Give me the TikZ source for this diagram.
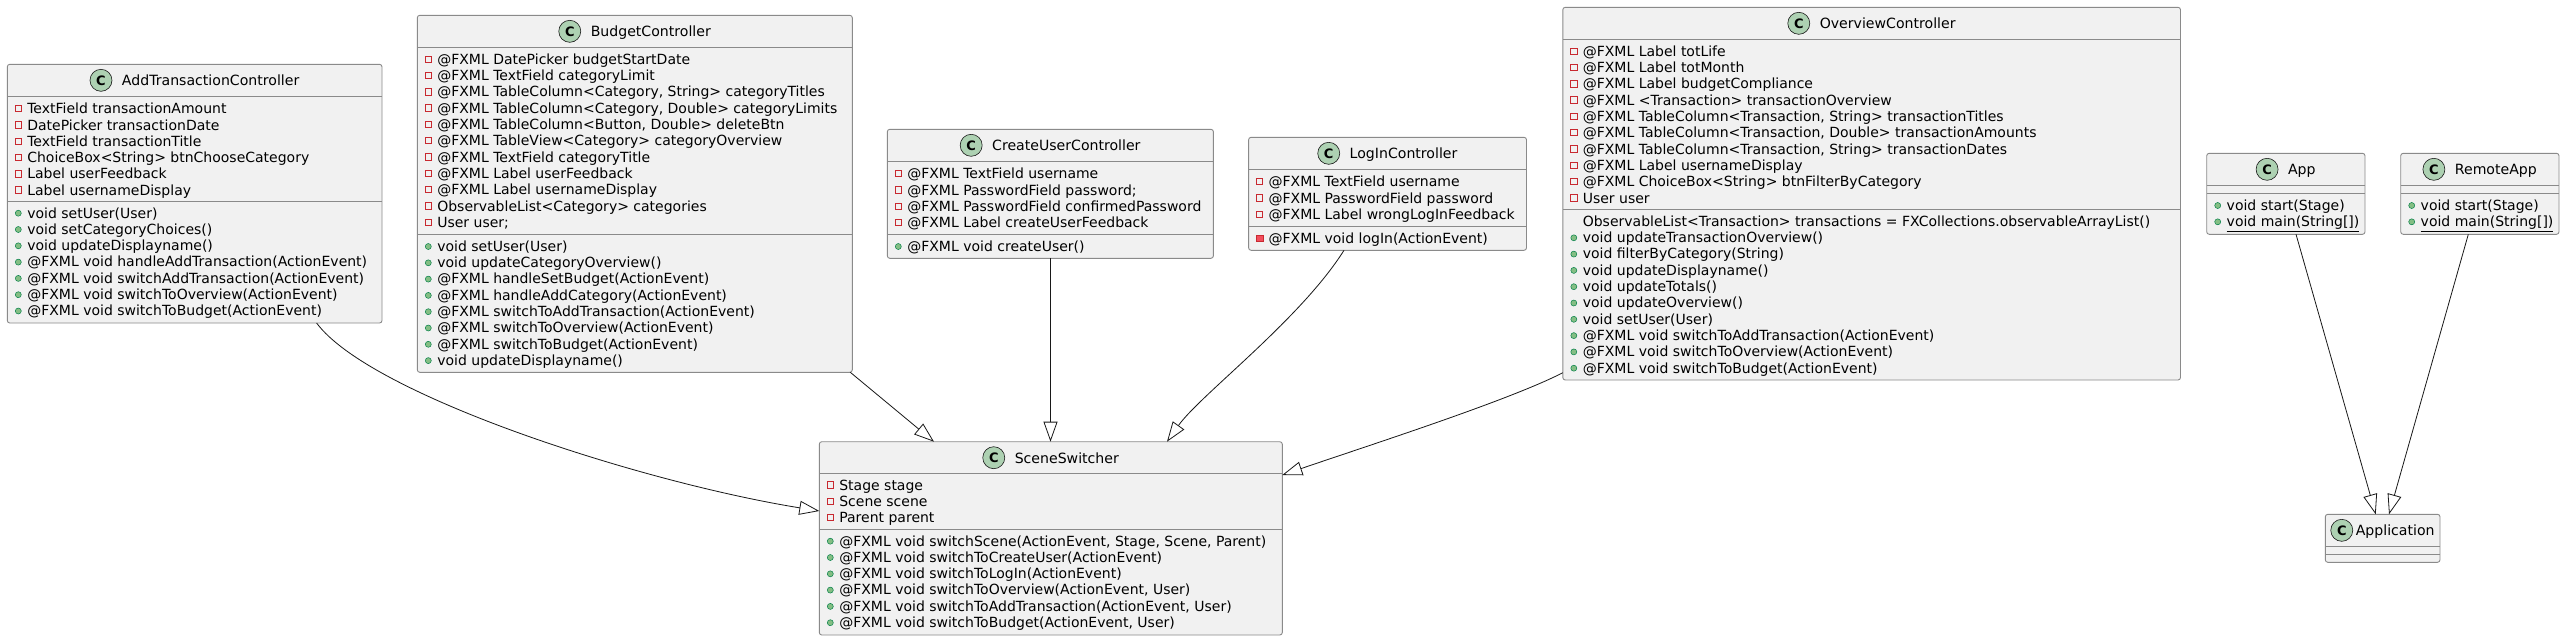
\documentclass[tikz,border=0pt]{standalone}
\usepackage{fontspec}
\setmainfont{DejaVu Sans}
\usetikzlibrary{arrows.meta,calc}
\definecolor{boxfill}{HTML}{F1F1F1}
\definecolor{lineclr}{HTML}{181818}
\definecolor{boxline}{HTML}{8A8A8A}
\definecolor{iconfill}{HTML}{ADD1B2}
\definecolor{privred}{HTML}{C82930}
\definecolor{privfill}{HTML}{F24D5C}
\definecolor{pubgreen}{HTML}{84BE84}
\definecolor{pubdark}{HTML}{038048}
\tikzset{
  clsbox/.style={draw=boxline, line width=0.9pt, fill=boxfill, rounded corners=2.5pt, inner sep=0pt, outer sep=0pt},
  sepline/.style={draw=boxline, line width=0.9pt},
  ttl/.style={font=\fontsize{14.1}{17}\selectfont, inner sep=0pt, outer sep=0pt},
  mem/.style={font=\fontsize{14}{17}\selectfont, inner sep=0pt, outer sep=0pt, anchor=base west},
  cletter/.style={font=\fontsize{13}{13}\selectfont\bfseries, inner sep=0pt},
  privsq/.style={draw=privred, line width=0.7pt},
  pubdot/.style={fill=pubgreen, draw=pubdark, line width=0.5pt},
  privmeth/.style={fill=privfill, draw=privred, line width=0.5pt},
  cicon/.style={fill=iconfill, draw=lineclr, line width=0.6pt},
  ext/.style={draw=lineclr, line width=0.8pt, -{Triangle[open, length=20pt, width=14pt]}},
}
% id, L, T, R, S1, S2, B, Title, gap
\newcommand\clsbox[9]{%
  \pgfmathsetmacro\cbw{#4-(#2)}%
  \pgfmathsetmacro\cbh{#7-(#3)}%
  \node[clsbox, minimum width=\cbw pt, minimum height=\cbh pt, anchor=north west] (#1) at (#2,#3) {};
  \draw[sepline] (#2,#5) -- (#4,#5);
  \draw[sepline] (#2,#6) -- (#4,#6);
  \node[ttl, anchor=base] (#1-t) at ({(#2+#4)/2+(22+#9)/2}, #3+21.4) {#8};
  \path ($(#1-t.base west)+({-(#9)-11},-5.4)$) coordinate (#1-c);
  \draw[cicon] (#1-c) circle (11pt);
  \node[cletter] (#1-cl) at (#1-c) {C};
}
% id, L, S, items
\newcommand\fields[4]{%
  \foreach \t [count=\i from 0] in {#4} {
    \pgfmathsetmacro\yb{#3+17+16.3*\i}
    \draw[privsq] (#2+7.8,\yb-8.4) rectangle (#2+14.2,\yb-2);
    \node[mem] (#1-f\i) at (#2+20,\yb) {\t};
  }}
% id, L, S, first index, items
\newcommand\meths[5]{%
  \foreach \t [count=\i from #4] in {#5} {
    \pgfmathsetmacro\yb{#3+17+16.3*\i}
    \draw[pubdot] (#2+11,\yb-4.8) circle (3pt);
    \node[mem] (#1-m\i) at (#2+20,\yb) {\t};
  }}
\begin{document}
\begin{tikzpicture}[x=1pt, y=-1pt]
\useasboundingbox (0,0) rectangle (2565,641);
\fill[white] (0,0) rectangle (2565,641);

% AddTransactionController
\clsbox{add}{7.3}{64.3}{382}{96.7}{201}{323}{AddTransactionController}{10}
\fields{add}{7.3}{96.7}{TextField transactionAmount, DatePicker transactionDate, TextField transactionTitle, ChoiceBox<String> btnChooseCategory, Label userFeedback, Label usernameDisplay}
\meths{add}{7.3}{201}{0}{void setUser(User), void setCategoryChoices(), void updateDisplayname(), @FXML void handleAddTransaction(ActionEvent), @FXML void switchAddTransaction(ActionEvent), @FXML void switchToOverview(ActionEvent), @FXML void switchToBudget(ActionEvent)}

% BudgetController
\clsbox{bud}{417.3}{15.3}{852.3}{47.3}{234.3}{372.3}{BudgetController}{10}
\fields{bud}{417.3}{47.3}{@FXML DatePicker budgetStartDate, @FXML TextField categoryLimit, {@FXML TableColumn<Category, String> categoryTitles}, {@FXML TableColumn<Category, Double> categoryLimits}, {@FXML TableColumn<Button, Double> deleteBtn}, @FXML TableView<Category> categoryOverview, @FXML TextField categoryTitle, @FXML Label userFeedback, @FXML Label usernameDisplay, ObservableList<Category> categories, User user;}
\meths{bud}{417.3}{234.3}{0}{void setUser(User), void updateCategoryOverview(), @FXML handleSetBudget(ActionEvent), @FXML handleAddCategory(ActionEvent), @FXML switchToAddTransaction(ActionEvent), @FXML switchToOverview(ActionEvent), @FXML switchToBudget(ActionEvent), void updateDisplayname()}

% CreateUserController
\clsbox{cu}{887.3}{129.3}{1213.4}{161.7}{234.3}{258.3}{CreateUserController}{10}
\fields{cu}{887.3}{161.7}{@FXML TextField username, @FXML PasswordField password;, @FXML PasswordField confirmedPassword, @FXML Label createUserFeedback}
\meths{cu}{887.3}{234.3}{0}{@FXML void createUser()}

% LogInController
\clsbox{li}{1248.6}{137.3}{1526.5}{169.7}{226.7}{250.3}{LogInController}{10}
\fields{li}{1248.6}{169.7}{@FXML TextField username, @FXML PasswordField password, @FXML Label wrongLogInFeedback}
\draw[privmeth] (1248.6+7.8,226.7+17-8.4) rectangle (1248.6+14.2,226.7+17-2);
\node[mem] (li-m0) at (1248.6+20,226.7+17) {@FXML void logIn(ActionEvent)};

% OverviewController
\clsbox{ov}{1562.8}{7.3}{2180.5}{39.3}{209.3}{380}{OverviewController}{10}
\fields{ov}{1562.8}{39.3}{@FXML Label totLife, @FXML Label totMonth, @FXML Label budgetCompliance, @FXML <Transaction> transactionOverview, {@FXML TableColumn<Transaction, String> transactionTitles}, {@FXML TableColumn<Transaction, Double> transactionAmounts}, {@FXML TableColumn<Transaction, String> transactionDates}, @FXML Label usernameDisplay, @FXML ChoiceBox<String> btnFilterByCategory, User user}
\node[mem] (ov-m0) at (1562.8+20,209.3+17) {ObservableList<Transaction> transactions = FXCollections.observableArrayList()};
\meths{ov}{1562.8}{209.3}{1}{void updateTransactionOverview(), void filterByCategory(String), void updateDisplayname(), void updateTotals(), void updateOverview(), void setUser(User), @FXML void switchToAddTransaction(ActionEvent), @FXML void switchToOverview(ActionEvent), @FXML void switchToBudget(ActionEvent)}

% SceneSwitcher
\clsbox{ss}{819.3}{441.7}{1282.3}{473}{529}{635}{SceneSwitcher}{10}
\fields{ss}{819.3}{473}{Stage stage, Scene scene, Parent parent}
\meths{ss}{819.3}{529}{0}{{@FXML void switchScene(ActionEvent, Stage, Scene, Parent)}, @FXML void switchToCreateUser(ActionEvent), @FXML void switchToLogIn(ActionEvent), {@FXML void switchToOverview(ActionEvent, User)}, {@FXML void switchToAddTransaction(ActionEvent, User)}, {@FXML void switchToBudget(ActionEvent, User)}}

% App
\clsbox{app}{2206.7}{153.3}{2365}{185.3}{193.3}{234.3}{App}{10}
\meths{app}{2206.7}{193.3}{0}{void start(Stage), \underline{void main(String[])}}

% RemoteApp
\clsbox{rapp}{2400.7}{153.3}{2559}{185.3}{193.3}{234.3}{RemoteApp}{10}
\meths{rapp}{2400.7}{193.3}{0}{void start(Stage), \underline{void main(String[])}}

% Application
\clsbox{appl}{2325.3}{514.3}{2440}{546.3}{554.3}{562.3}{Application}{3}

% connectors
\draw[ext] ($(add.south west)+(309.3,0)$) .. controls (370,395) and (640,482) .. ($(ss.north west)+(0,69.3)$);
\draw[ext] ($(bud.south east)+(-2,0)$) -- ($(ss.north west)+(114.7,0)$);
\draw[ext] ($(cu.south west)+(163.2,0)$) -- ($(ss.north west)+(231.2,0)$);
\draw[ext] ($(li.south west)+(95.4,0)$) .. controls (1300,320) and (1200,395) .. ($(ss.north west)+(347.7,0)$);
\draw[ext] ($(ov.south west)+(0,-7.3)$) .. controls (1510,400) and (1370,445) .. ($(ss.north east)+(0,33.3)$);
\draw[ext] ($(app.south west)+(89.3,0)$) -- ($(appl.north west)+(50.4,0)$);
\draw[ext] ($(rapp.south west)+(67.6,0)$) -- ($(appl.north west)+(63.7,0)$);
\end{tikzpicture}
\end{document}
